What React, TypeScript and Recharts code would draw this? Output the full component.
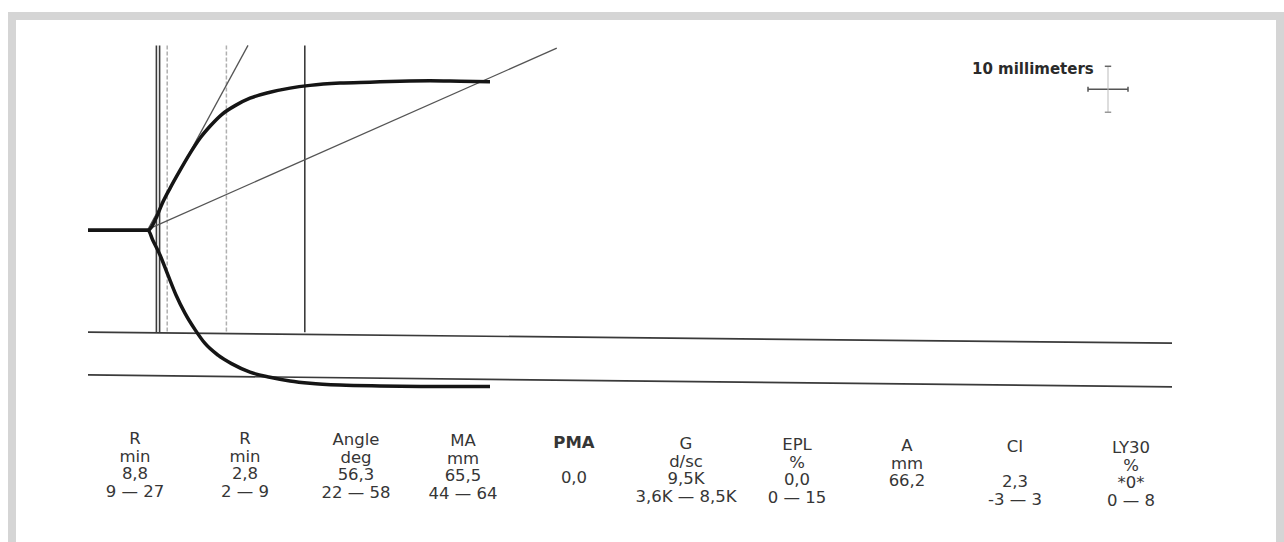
import { ComposedChart, Line, XAxis, YAxis, ReferenceLine } from 'recharts'

// TEG trace: time in minutes, amplitude in mm (upper branch +, lower branch -)
const upperTime = [0, 7.5, 8.5, 9.25, 10.25, 11.5, 12.75, 14, 15.25, 16.75, 18.5, 20.25, 22.75, 25.25, 27.75, 31.5, 35.25, 39, 42.75, 46.5, 50.25]
const upperAmp = [0, 0, 2.6, 5.7, 9.1, 13.0, 16.7, 20.0, 22.6, 25.2, 27.2, 28.7, 30.0, 30.9, 31.5, 32.0, 32.2, 32.4, 32.5, 32.4, 32.3]

const lowerTime = [0, 7.5, 8.1, 9, 10, 11, 12.1, 13.4, 14.6, 16.25, 18, 20.25, 22.75, 25.25, 27.75, 31.5, 36.5, 42.75, 50.25]
const lowerAmp = [0, 0, -2.2, -5.4, -9.8, -14.1, -18.0, -21.7, -24.6, -27.2, -29.1, -30.9, -32.0, -32.8, -33.3, -33.7, -33.9, -34.0, -34.0]

// R (double pen), K-start, K-end and MA time markers (min)
const markerTimes = [8.55, 8.95, 9.9, 17.3, 27.1]
const markerDark = [true, true, false, false, true]

// printed results table
const paramNames = ['R', 'R', 'Angle', 'MA', 'PMA', 'G', 'EPL', 'A', 'CI', 'LY30']
const paramUnits = ['min', 'min', 'deg', 'mm', '', 'd/sc', '%', 'mm', '', '%']
const paramValues = ['8,8', '2,8', '56,3', '65,5', '0,0', '9,5K', '0,0', '66,2', '2,3', '*0*']
const paramRanges = ['9 — 27', '2 — 9', '22 — 58', '44 — 64', '', '3,6K — 8,5K', '0 — 15', '', '-3 — 3', '0 — 8']

const upperData = upperTime.map((t, i) => ({ t, a: upperAmp[i] }))
const lowerData = lowerTime.map((t, i) => ({ t, a: lowerAmp[i] }))

// layout, relative to the inner white panel
const colCenters = [119, 229, 340, 447, 558, 670, 781, 891, 999, 1115]
const colTops = [410, 410, 411, 412, 414, 415, 416, 417, 418, 419]
const ROW = 17.5

const textFont = '"DejaVu Sans", Verdana, sans-serif'

function ResultsTable() {
  return (
    <>
      {paramNames.map((name, i) => {
        const rows = [name, paramUnits[i], paramValues[i], paramRanges[i]]
        return (
          <div
            key={i}
            style={{
              position: 'absolute',
              left: colCenters[i] - 70,
              top: colTops[i],
              width: 140,
              textAlign: 'center',
              fontFamily: textFont,
              fontSize: 16.5,
              lineHeight: `${ROW}px`,
              color: '#363636',
              whiteSpace: 'pre',
            }}
          >
            {rows.map((r, j) => (
              <div key={j} style={{ height: ROW, fontWeight: name === 'PMA' && j === 0 ? 'bold' : 'normal' }}>
                {r}
              </div>
            ))}
          </div>
        )
      })}
    </>
  )
}

export default function App() {
  return (
    <div
      style={{
        position: 'absolute',
        left: 8,
        top: 12,
        width: 1276,
        height: 530,
        boxSizing: 'border-box',
        borderLeft: '8px solid #d5d5d5',
        borderTop: '8px solid #d5d5d5',
        borderRight: '8px solid #d5d5d5',
        background: '#fff',
      }}
    >
      <div style={{ position: 'absolute', left: 0, top: 0 }}>
        <ComposedChart width={1260} height={522} margin={{ top: 24, right: 68, bottom: 128, left: 72 }}>
          <XAxis type="number" dataKey="t" domain={[0, 140]} hide allowDataOverflow />
          <YAxis type="number" dataKey="a" domain={[-40, 40.5]} hide allowDataOverflow />

          {/* time markers */}
          {markerTimes.map((t, i) => (
            <ReferenceLine
              key={`m-${i}`}
              segment={[{ x: t, y: 40.2 }, { x: t, y: -22.2 }]}
              stroke={markerDark[i] ? '#3c3c3c' : '#b0b0b0'}
              strokeWidth={markerDark[i] ? 1.6 : 1.5}
              strokeDasharray={markerDark[i] ? undefined : '4 2'}
            />
          ))}

          {/* baseline rails */}
          <ReferenceLine segment={[{ x: 0, y: -22.2 }, { x: 135.5, y: -24.6 }]} stroke="#3a3a3a" strokeWidth={1.7} />
          <ReferenceLine segment={[{ x: 0, y: -31.5 }, { x: 135.5, y: -34.1 }]} stroke="#3a3a3a" strokeWidth={1.7} />

          {/* angle tangent and MA projection */}
          <ReferenceLine segment={[{ x: 7.5, y: 0.2 }, { x: 20, y: 40.2 }]} stroke="#555" strokeWidth={1.3} />
          <ReferenceLine segment={[{ x: 7.75, y: 0.4 }, { x: 58.6, y: 39.6 }]} stroke="#555" strokeWidth={1.3} />

          {/* 10 mm scale cross */}
          <ReferenceLine segment={[{ x: 125, y: 30.65 }, { x: 130, y: 30.65 }]} stroke="#555" strokeWidth={1.5} />
          <ReferenceLine segment={[{ x: 125, y: 31.2 }, { x: 125, y: 30.1 }]} stroke="#555" strokeWidth={1.5} />
          <ReferenceLine segment={[{ x: 130, y: 31.2 }, { x: 130, y: 30.1 }]} stroke="#555" strokeWidth={1.5} />
          <ReferenceLine segment={[{ x: 127.5, y: 35.65 }, { x: 127.5, y: 25.65 }]} stroke="#bbb" strokeWidth={1} />
          <ReferenceLine segment={[{ x: 127.1, y: 35.65 }, { x: 127.9, y: 35.65 }]} stroke="#666" strokeWidth={1.5} />
          <ReferenceLine segment={[{ x: 127.1, y: 25.65 }, { x: 127.9, y: 25.65 }]} stroke="#999" strokeWidth={1.5} />

          <Line data={upperData} dataKey="a" type="monotone" stroke="#151515" strokeWidth={3.5} dot={false} isAnimationActive={false} />
          <Line data={lowerData} dataKey="a" type="monotone" stroke="#151515" strokeWidth={3.5} dot={false} isAnimationActive={false} />
        </ComposedChart>
      </div>

      <div
        style={{
          position: 'absolute',
          left: 956,
          top: 40,
          fontFamily: textFont,
          fontSize: 15,
          fontWeight: 'bold',
          lineHeight: '18px',
          color: '#2a2a2a',
          whiteSpace: 'nowrap',
        }}
      >
        10 millimeters
      </div>

      <ResultsTable />
    </div>
  )
}
